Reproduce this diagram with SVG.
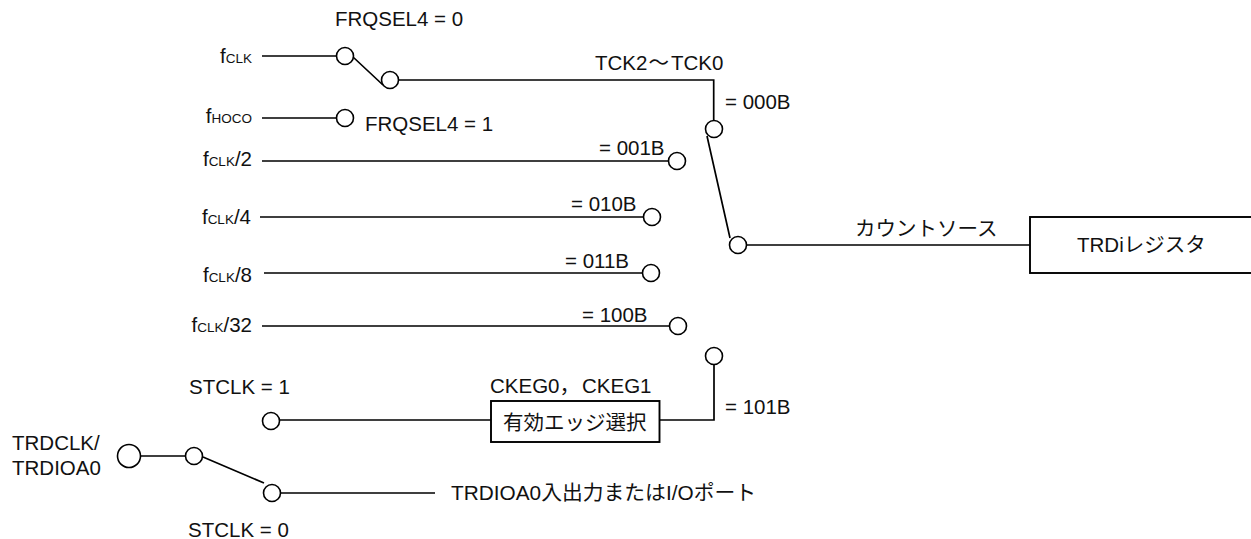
<svg xmlns="http://www.w3.org/2000/svg" width="1251" height="539" viewBox="0 0 1251 539">
<style>
text{font-family:"Liberation Sans","Noto Sans CJK JP",sans-serif;font-size:20.5px;fill:#111}
.s{font-size:13.5px}
.e{text-anchor:end}
.c{stroke:#000;stroke-width:1.7;fill:none}
circle{stroke:#000;stroke-width:1.6;fill:#fff}
rect{stroke:#000;stroke-width:1.9;fill:#fff}
</style>
<g id="connectors">
<path class="c" d="M262 56H337M353 57L383 85M398 80H713.7V120M707 136L730 238M746 245H1030"/>
<path class="c" d="M262 118H337M262 161H668M260 217H644M264 273H642M262 326H669"/>
<path class="c" d="M280 420H491M660 420H714V365M141 456H185M203 457L264 483M281 493H435"/>
</g>
<g id="n1"><circle cx="345" cy="56" r="8.5"/><text class="e" x="252" y="63">f<tspan class="s">CLK</tspan></text></g>
<g id="n2"><circle cx="390" cy="80" r="8.5"/></g>
<g id="n3"><circle cx="345" cy="118" r="8.5"/><text class="e" x="252" y="123">f<tspan class="s">HOCO</tspan></text></g>
<g id="n4"><circle cx="677" cy="161" r="8.5"/><text class="e" x="252" y="166">f<tspan class="s">CLK</tspan>/2</text></g>
<g id="n5"><circle cx="652" cy="217" r="8.5"/><text class="e" x="251" y="224">f<tspan class="s">CLK</tspan>/4</text></g>
<g id="n6"><circle cx="651" cy="273" r="8.5"/><text class="e" x="252" y="282">f<tspan class="s">CLK</tspan>/8</text></g>
<g id="n7"><circle cx="678" cy="326" r="8.5"/><text class="e" x="252" y="332">f<tspan class="s">CLK</tspan>/32</text></g>
<g id="n8"><circle cx="714" cy="129" r="8.5"/></g>
<g id="n9"><circle cx="738" cy="245" r="8.5"/></g>
<g id="n10"><circle cx="714" cy="356" r="8.5"/></g>
<g id="n11"><circle cx="271" cy="421" r="8.5"/></g>
<g id="n12"><circle cx="129" cy="456" r="11.5"/><text x="12" y="450">TRDCLK/</text><text x="12" y="475">TRDIOA0</text></g>
<g id="n13"><circle cx="194" cy="456" r="8.5"/></g>
<g id="n14"><circle cx="272" cy="493" r="8.5"/></g>
<g id="n15"><rect x="491" y="401" width="168.500" height="41"/><text x="503" y="430">有効エッジ選択</text></g>
<g id="n16"><rect x="1030" y="217" width="240" height="56"/><text x="1077" y="252">TRDiレジスタ</text></g>
<g id="labels">
<text x="335" y="26">FRQSEL4 = 0</text>
<text x="365" y="131">FRQSEL4 = 1</text>
<text x="595" y="70">TCK2<tspan dx="1">～</tspan><tspan dx="2">TCK0</tspan></text>
<text x="725" y="109">= 000B</text>
<text x="599" y="155">= 001B</text>
<text x="571" y="211">= 010B</text>
<text x="565" y="268">= 011B</text>
<text x="582" y="322">= 100B</text>
<text x="725" y="414">= 101B</text>
<text x="490" y="393">CKEG0，<tspan dx="2">CKEG1</tspan></text>
<text x="855" y="236">カウントソース</text>
<text x="189" y="394">STCLK = 1</text>
<text x="188" y="537">STCLK = 0</text>
<text x="451" y="500" style="font-size:20.8px">TRDIOA0入出力またはI/Oポート</text>
</g>
</svg>
